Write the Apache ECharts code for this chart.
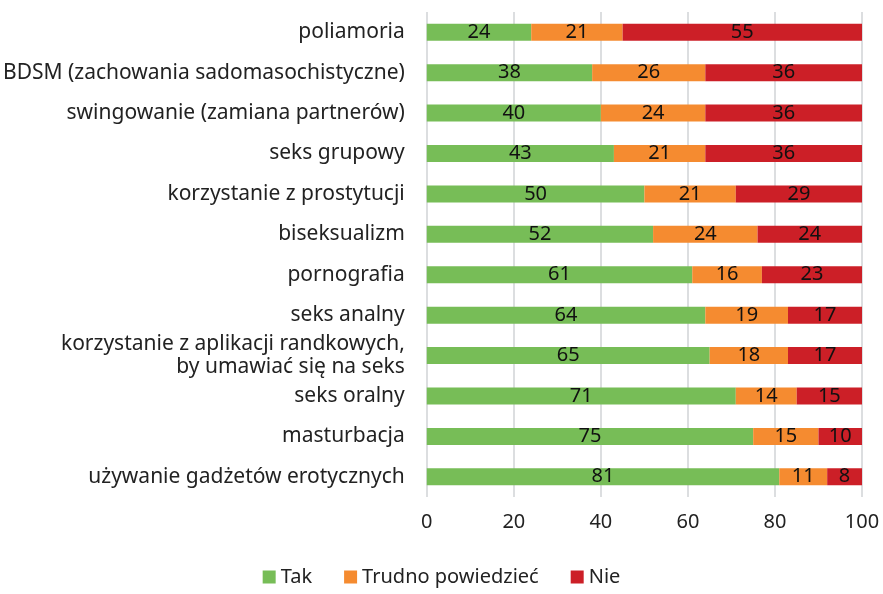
<!DOCTYPE html>
<html>
<head>
<meta charset="utf-8">
<script src="https://cdn.jsdelivr.net/npm/echarts@6/dist/echarts.min.js"></script>
<style>
  html, body { margin: 0; padding: 0; background: #fff; }
</style>
</head>
<body>
<div id="container" style="width: 883px; height: 594px;"></div>
<script>
// categories listed from top to bottom as in the picture
var categories = [
  'poliamoria',
  'BDSM (zachowania sadomasochistyczne)',
  'swingowanie (zamiana partnerów)',
  'seks grupowy',
  'korzystanie z prostytucji',
  'biseksualizm',
  'pornografia',
  'seks analny',
  'korzystanie z aplikacji randkowych,\nby umawiać się na seks',
  'seks oralny',
  'masturbacja',
  'używanie gadżetów erotycznych'
];
var tak = [24, 38, 40, 43, 50, 52, 61, 64, 65, 71, 75, 81];
var trudno = [21, 26, 24, 21, 21, 24, 16, 19, 18, 14, 15, 11];
var nie = [55, 36, 36, 36, 29, 24, 23, 17, 17, 15, 10, 8];
var seriesNames = ['Tak', 'Trudno powiedzieć', 'Nie'];
var colors = ['#77BD57', '#F58B30', '#CC1F27'];

var chart = echarts.init(document.getElementById('container'));
var font = 'Noto Sans';

function makeSeries(name, data, color) {
  return {
    name: name,
    type: 'bar',
    stack: 'all',
    barWidth: 17,
    data: data,
    itemStyle: { color: color },
    label: {
      show: true,
      position: 'inside',
      color: '#111',
      fontSize: 20,
      fontFamily: font
    }
  };
}

var option = {
  animation: false,
  color: colors,
  grid: {
    left: 426,
    right: 21,
    top: 12,
    bottom: 97,
    containLabel: false
  },
  legend: {
    bottom: 2,
    left: 'center',
    itemWidth: 13,
    itemHeight: 13,
    itemGap: 32,
    icon: 'rect',
    textStyle: { fontSize: 20, color: '#222', fontFamily: font },
    data: seriesNames
  },
  xAxis: {
    type: 'value',
    min: 0,
    max: 100,
    interval: 20,
    axisLine: { show: false },
    axisTick: { show: false },
    splitLine: { show: true, lineStyle: { color: '#D0D3D6', width: 1.5 } },
    axisLabel: { fontSize: 20, color: '#222', fontFamily: font, margin: 15 }
  },
  yAxis: {
    type: 'category',
    inverse: true,
    data: categories,
    axisLine: { show: false },
    axisTick: { show: false },
    axisLabel: {
      fontSize: 21,
      color: '#222',
      fontFamily: font,
      margin: 22,
      align: 'right',
      lineHeight: 23
    }
  },
  series: [
    makeSeries(seriesNames[0], tak, colors[0]),
    makeSeries(seriesNames[1], trudno, colors[1]),
    makeSeries(seriesNames[2], nie, colors[2])
  ]
};

chart.setOption(option);
</script>
</body>
</html>
